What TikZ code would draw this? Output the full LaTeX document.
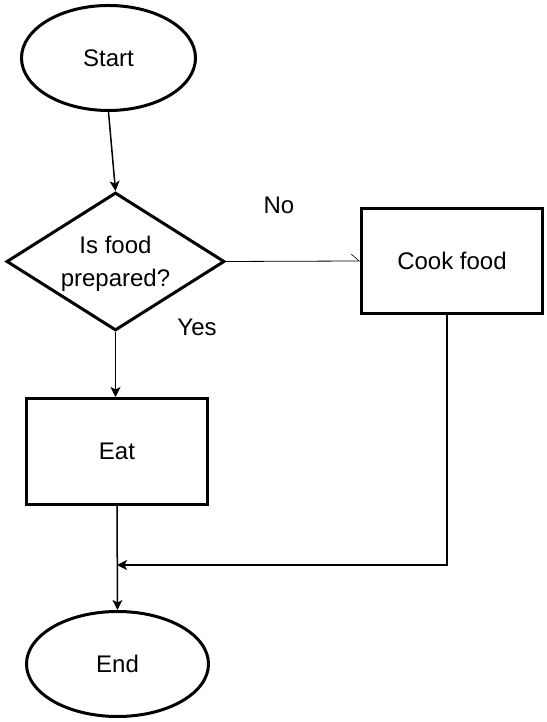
\documentclass[tikz,border=0pt]{standalone}
\usepackage{fontspec}
\setmainfont{Liberation Sans}
\usetikzlibrary{shapes.geometric,arrows.meta}
\begin{document}
\begin{tikzpicture}[x=1pt,y=1pt,
  every node/.style={font=\fontsize{24}{33}\selectfont},
  term/.style={draw, line width=3pt, ellipse, inner sep=0pt},
  proc/.style={draw, line width=3pt, rectangle, inner sep=0pt},
  deci/.style={draw, line width=3pt, diamond, inner sep=0pt},
  conn/.style={line width=1.5pt, -{Stealth[length=10pt,width=10pt,inset=2.5pt]}},
  thinconn/.style={line width=0.8pt, -{Straight Barb[left,length=8pt,width=14pt,line width=0.6pt]}},
  lbl/.style={inner sep=0pt}]
\useasboundingbox (0,0) rectangle (546,722);
\node[term, minimum width=174pt, minimum height=105pt] (start) at (108.5,664) {Start};
\node[deci, minimum width=218pt, minimum height=138pt] (dia) at (115.5,460.5) {};
\node[align=center, inner sep=0pt] (diatext) at (115.5,458) {Is food\\prepared?};
\node[proc, minimum width=181pt, minimum height=105pt] (cook) at (452,461) {Cook food};
\node[proc, minimum width=181pt, minimum height=106pt] (eat) at (117,270.5) {Eat};
\node[term, minimum width=182pt, minimum height=105pt] (end) at (117.5,58) {End};
\node[lbl] (no) at (279,517) {No};
\node[lbl] (yes) at (197,395) {Yes};
\coordinate (merge) at (117,157);
\draw[conn] (start.south) -- (dia.north);
\draw[thinconn] (dia.east) -- (cook.west);
\draw[conn] (dia.south) -- (eat.north -| dia.south);
\draw[conn] (eat.south) -- (end.north);
\draw[conn] ([xshift=-5pt]cook.south) |- (merge);
\end{tikzpicture}
\end{document}
